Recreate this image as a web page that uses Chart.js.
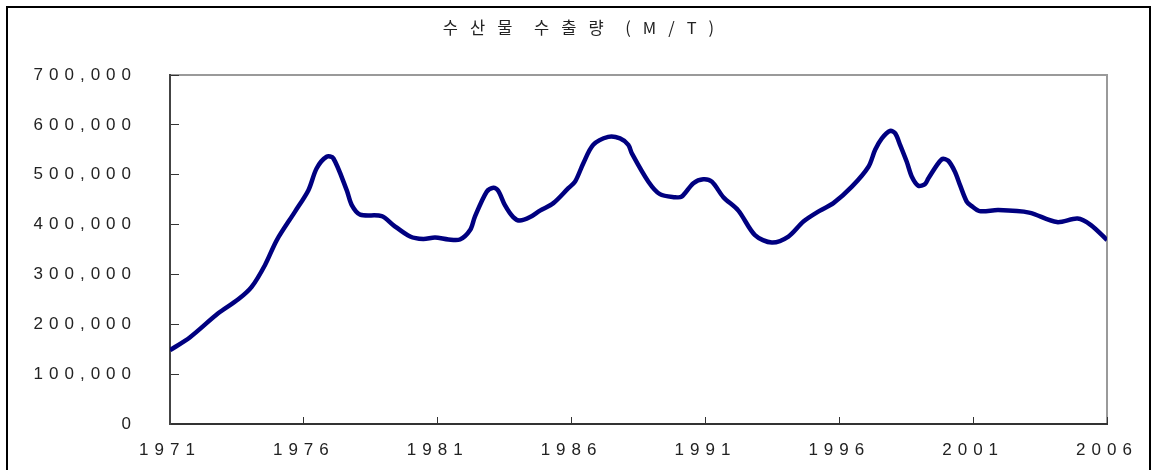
<!DOCTYPE html>
<html>
<head>
<meta charset="utf-8">
<script src="https://cdn.jsdelivr.net/npm/chart.js@4"></script>
<style>
  html, body { margin: 0; padding: 0; background: #fff; }
  #wrap { position: relative; width: 1157px; height: 470px; overflow: hidden; }
  #frame { position: absolute; left: 6px; top: 6px; width: 1145px; height: 480px; border: 2px solid #000; box-sizing: border-box; }
  #title {
    position: absolute; left: 0; top: 15px; width: 1157px; text-align: center;
    font-family: "Noto Sans CJK KR", sans-serif; font-size: 16.5px; color: #222;
    letter-spacing: 12px; word-spacing: -6px; padding-left: 12px; box-sizing: border-box;
  }
  canvas { position: absolute; left: 0; top: 0; }
</style>
</head>
<body>
<div id="wrap">
  <div id="frame"></div>
  <canvas id="chart" width="1157" height="470"></canvas>
  <div id="title">수산물 수출량 (M/T)</div>
</div>
<script>
// 연도 (소수점 = 연중 위치), 수출량 (M/T) - 그림에서 읽은 값
const years = [
  1971.00, 1971.75, 1972.80, 1973.55, 1974.05, 1974.55, 1974.99, 1975.67, 1976.17, 1976.48,
  1976.85, 1977.10, 1977.60, 1977.79, 1978.10, 1978.91, 1979.34, 1979.97, 1980.46, 1980.90,
  1981.40, 1981.83, 1982.21, 1982.39, 1982.83, 1983.08, 1983.26, 1983.51, 1983.82, 1984.07,
  1984.45, 1984.82, 1985.32, 1985.88, 1986.13, 1986.44, 1986.81, 1987.37, 1987.81, 1988.12,
  1988.25, 1988.87, 1989.30, 1989.86, 1990.11, 1990.55, 1990.92, 1991.24, 1991.67, 1992.23,
  1992.85, 1993.48, 1994.10, 1994.66, 1995.28, 1995.78, 1996.47, 1997.09, 1997.34, 1997.59,
  1997.90, 1998.09, 1998.27, 1998.52, 1998.71, 1998.95, 1999.20, 1999.33, 1999.83, 2000.07,
  2000.32, 2000.51, 2000.76, 2000.92, 2001.24, 2001.94, 2003.09, 2004.13, 2004.90, 2005.40,
  2006.00
];
const exportsMT = [
  148000, 174000, 222000, 250000, 275000, 319000, 369000, 426000, 469000, 513000,
  536000, 533000, 469000, 439000, 420000, 417000, 399000, 376000, 371000, 374000,
  370000, 370000, 389000, 416000, 466000, 474000, 468000, 439000, 415000, 408000,
  415000, 428000, 443000, 473000, 486000, 523000, 560000, 576000, 573000, 560000,
  543000, 486000, 461000, 455000, 456000, 483000, 491000, 486000, 455000, 428000,
  379000, 364000, 376000, 406000, 428000, 443000, 476000, 516000, 550000, 573000,
  588000, 583000, 560000, 526000, 496000, 478000, 481000, 493000, 531000, 528000,
  506000, 479000, 446000, 438000, 427000, 429000, 424000, 405000, 412000, 399000,
  369000
];
const xTicks = [1971, 1976, 1981, 1986, 1991, 1996, 2001, 2006];
const yTicks = [0, 100000, 200000, 300000, 400000, 500000, 600000, 700000];

const tickFont = { family: "'Liberation Sans', Arial, sans-serif", size: 17 };

// 그림 영역 테두리 (위/오른쪽 회색) + 글자 간격
const framePlugin = {
  id: "frameBox",
  beforeDraw(chart) {
    const { ctx, chartArea: a } = chart;
    ctx.letterSpacing = "6px";
    ctx.save();
    ctx.strokeStyle = "#9a9a9a";
    ctx.lineWidth = 2;
    ctx.strokeRect(a.left, a.top, a.right - a.left, a.bottom - a.top);
    ctx.restore();
  },
};

new Chart(document.getElementById("chart"), {
  type: "line",
  data: {
    datasets: [{
      data: years.map((x, i) => ({ x, y: exportsMT[i] })),
      borderColor: "#000080",
      borderWidth: 4.5,
      pointRadius: 0,
      tension: 0.3,
      fill: false,
    }],
  },
  options: {
    responsive: false,
    animation: false,
    layout: { padding: { top: 75, right: 50, bottom: 0, left: 0 } },
    plugins: { legend: { display: false }, tooltip: { enabled: false } },
    scales: {
      x: {
        type: "linear",
        min: 1971,
        max: 2006,
        afterBuildTicks: (s) => { s.ticks = xTicks.map((v) => ({ value: v })); },
        afterFit: (s) => { s.height = 46; },
        grid: { drawOnChartArea: false, tickLength: -7, color: "#333", lineWidth: 1 },
        border: { color: "#333", width: 2 },
        ticks: { color: "#222", font: tickFont, padding: 23, autoSkip: false, maxRotation: 0, callback: (v) => String(v) },
      },
      y: {
        min: 0,
        max: 700000,
        afterBuildTicks: (s) => { s.ticks = yTicks.map((v) => ({ value: v })); },
        afterFit: (s) => { s.width = 170; s.paddingTop = 10; s.paddingBottom = 10; },
        grid: { drawOnChartArea: false, tickLength: -9, color: "#333", lineWidth: 1 },
        border: { color: "#444", width: 2 },
        ticks: { color: "#222", font: tickFont, padding: 42, callback: (v) => v.toLocaleString("en-US") },
      },
    },
  },
  plugins: [framePlugin],
});
</script>
</body>
</html>
